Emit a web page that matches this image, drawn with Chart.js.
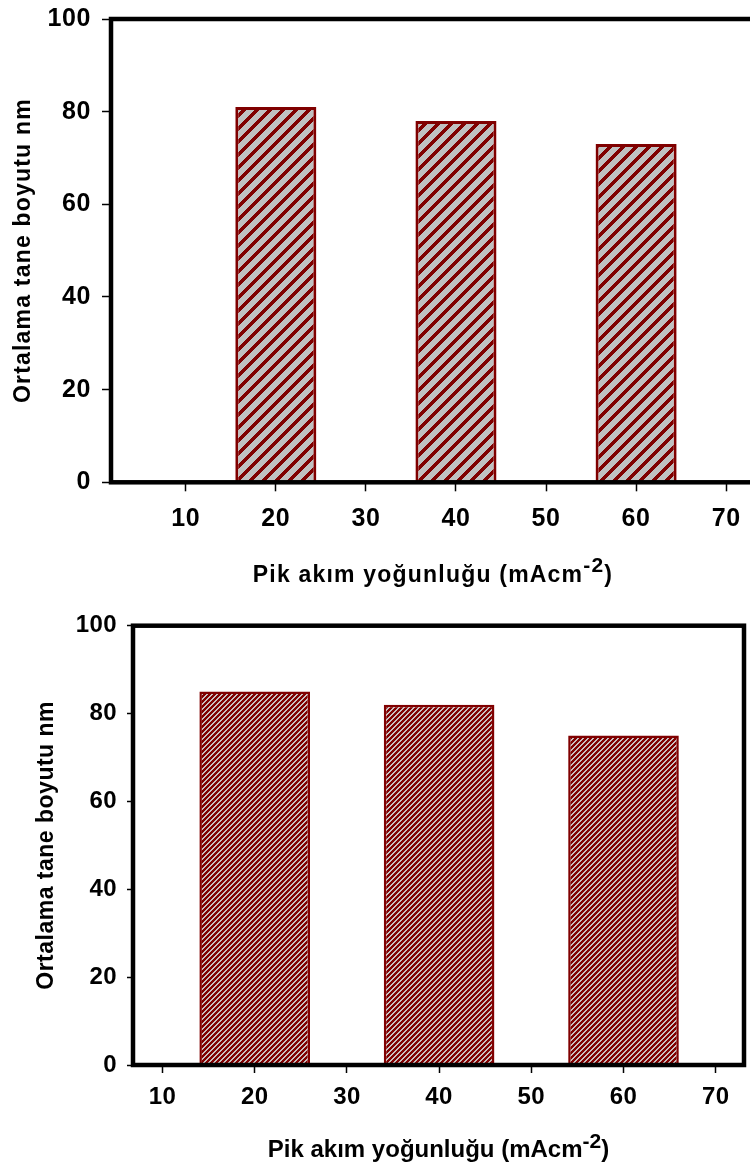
<!DOCTYPE html>
<html>
<head>
<meta charset="utf-8">
<script src="https://cdn.jsdelivr.net/npm/chart.js@4.4.1/dist/chart.umd.min.js"></script>
<style>
html, body { margin: 0; padding: 0; background: #fff; width: 750px; height: 1167px; overflow: hidden; }
#top { position: absolute; left: 0; top: 0; }
#bottom { position: absolute; left: 0; top: 600px; }
</style>
</head>
<body>
<canvas id="top" width="800" height="600"></canvas>
<canvas id="bottom" width="750" height="567"></canvas>
<script>
// values
var currents = [20, 40, 60];
var sizeTop = [81, 78, 73];
var sizeBottom = [85, 82, 75];
var xTickValues = [10, 20, 30, 40, 50, 60, 70];
var yTickValues = [0, 20, 40, 60, 80, 100];
var yTitle = 'Ortalama tane boyutu nm';
var xTitle = ['Pik akım yoğunluğu (mAcm', '-2', ')'];

var FONT = "'Liberation Sans', Arial, Helvetica, sans-serif";
var RED = '#800000';

// diagonal "/" hatch tile, painted pixel by pixel so it tiles without seams
function stripes(canvasId, bg, fg, size, band) {
    var tile = document.createElement('canvas');
    tile.width = tile.height = size;
    var g = tile.getContext('2d');
    g.fillStyle = bg;
    g.fillRect(0, 0, size, size);
    g.fillStyle = fg;
    for (var y = 0; y < size; y++) {
        for (var x = 0; x < size; x++) {
            if ((x + y) % size < band) g.fillRect(x, y, 1, 1);
        }
    }
    return document.getElementById(canvasId).getContext('2d').createPattern(tile, 'repeat');
}

// box around the plot + axis titles (x title has a superscript)
var frameAndTitles = {
    id: 'frameAndTitles',
    beforeDraw: function (chart, args, o) {
        chart.ctx.letterSpacing = o.tickSpacing + 'px';
    },
    afterDatasetsDraw: function (chart, args, o) {
        var ctx = chart.ctx, a = chart.chartArea;
        ctx.save();
        ctx.strokeStyle = '#000';
        ctx.lineWidth = o.frame;
        ctx.strokeRect(a.left, a.top, a.right - a.left, a.bottom - a.top);
        ctx.restore();
    },
    afterDraw: function (chart, args, o) {
        var ctx = chart.ctx, a = chart.chartArea;
        ctx.save();
        ctx.fillStyle = '#000';
        ctx.letterSpacing = o.ySpacing + 'px';
        ctx.textAlign = 'center';
        ctx.textBaseline = 'middle';
        ctx.font = 'bold ' + o.ySize + 'px ' + FONT;
        ctx.translate(o.yX, (a.top + a.bottom) / 2);
        ctx.rotate(-Math.PI / 2);
        ctx.fillText(yTitle, 0, 0);
        ctx.restore();

        ctx.save();
        ctx.fillStyle = '#000';
        ctx.letterSpacing = o.xSpacing + 'px';
        ctx.textAlign = 'left';
        ctx.textBaseline = 'alphabetic';
        var main = 'bold ' + o.xSize + 'px ' + FONT;
        var sup = 'bold ' + o.supSize + 'px ' + FONT;
        ctx.font = main; var w0 = ctx.measureText(xTitle[0]).width;
        ctx.font = sup; var w1 = ctx.measureText(xTitle[1]).width;
        ctx.font = main; var w2 = ctx.measureText(xTitle[2]).width;
        var x = (a.left + a.right) / 2 - (w0 + w1 + w2) / 2;
        ctx.fillText(xTitle[0], x, o.xBase);
        ctx.font = sup;
        ctx.fillText(xTitle[1], x + w0, o.xBase - o.supRise);
        ctx.font = main;
        ctx.fillText(xTitle[2], x + w0 + w1, o.xBase);
        ctx.restore();
    }
};

// bar width comes out of the x scale: ruler step (10 units, the tick step) * barPct
function makeChart(id, values, cfg) {
    return new Chart(document.getElementById(id), {
        type: 'bar',
        data: {
            datasets: [{
                data: currents.map(function (x, i) { return { x: x, y: values[i] }; }),
                backgroundColor: cfg.fill,
                borderColor: RED,
                borderWidth: cfg.barBorder,
                borderSkipped: 'start',
                categoryPercentage: 1,
                barPercentage: cfg.barPct
            }]
        },
        options: {
            responsive: false,
            animation: false,
            layout: { padding: cfg.padding },
            plugins: {
                legend: { display: false },
                tooltip: { enabled: false },
                frameAndTitles: cfg.text
            },
            scales: {
                x: {
                    type: 'linear',
                    min: cfg.xMin,
                    max: cfg.xMax,
                    offset: false,
                    afterBuildTicks: function (s) { s.ticks = xTickValues.map(function (v) { return { value: v }; }); },
                    afterFit: function (s) { s.height = cfg.xHeight; s.paddingLeft = 0; s.paddingRight = 0; },
                    border: { display: false },
                    grid: { offset: false, drawOnChartArea: false, drawTicks: true, tickLength: cfg.xTick, tickColor: '#000', tickWidth: 1.5 },
                    ticks: { color: '#000', padding: cfg.xPad, maxRotation: 0, autoSkip: false,
                             font: { family: FONT, size: cfg.tickSize, weight: 'bold' } }
                },
                y: {
                    min: 0,
                    max: 100,
                    afterBuildTicks: function (s) { s.ticks = yTickValues.map(function (v) { return { value: v }; }); },
                    // fixed axis width; label overhang must not push the plot area down
                    afterFit: function (s) { s.width = cfg.yWidth; s.paddingTop = 0; s.paddingBottom = 0; },
                    border: { display: false },
                    grid: { drawOnChartArea: false, drawTicks: true, tickLength: cfg.yTick, tickColor: '#000', tickWidth: 1.5 },
                    ticks: { color: '#000', padding: cfg.yPad,
                             font: { family: FONT, size: cfg.tickSize, weight: 'bold' } }
                }
            }
        },
        plugins: [frameAndTitles]
    });
}

// upper panel (its right side runs off the page)
makeChart('top', sizeTop, {
    fill: stripes('top', '#c0c0c0', RED, 13, 5),
    barBorder: 3,
    barPct: 0.9,
    padding: { top: 19, right: 45, left: 0, bottom: 0 },
    xMin: 1.7, xMax: 73.2,
    xHeight: 117.7, yWidth: 111,
    xTick: 9, yTick: 9, xPad: 12.5, yPad: 11,
    tickSize: 25,
    text: { frame: 4.5, tickSpacing: 0.6,
            ySize: 23, ySpacing: 1.2, yX: 23.7,
            xSize: 23, xSpacing: 1.2, supSize: 21, supRise: 10, xBase: 582 }
});

// lower panel
makeChart('bottom', sizeBottom, {
    fill: stripes('bottom', RED, '#c8c0c0', 5, 2),
    barBorder: 2.5,
    barPct: 1.2,
    padding: { top: 25.7, right: 6, left: 0, bottom: 0 },
    xMin: 6.8, xMax: 73.07,
    xHeight: 102, yWidth: 133,
    xTick: 8, yTick: 6, xPad: 10, yPad: 10,
    tickSize: 24,
    text: { frame: 4.5, tickSpacing: 0.4,
            ySize: 23, ySpacing: 0.5, yX: 46.7,
            xSize: 24, xSpacing: 0, supSize: 21, supRise: 9, xBase: 556.7 }
});
</script>
</body>
</html>
